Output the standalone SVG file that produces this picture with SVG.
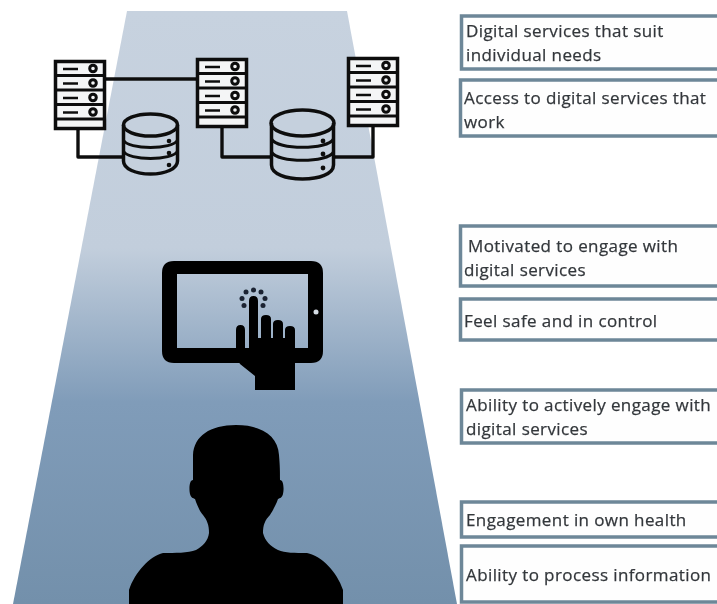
<svg xmlns="http://www.w3.org/2000/svg" width="717" height="604" viewBox="0 0 717 604">
<style>
.box{fill:#fefefe;stroke:#6d8798;stroke-width:3.500}
.lbl{font-family:"Open Sans","Liberation Sans",sans-serif;font-size:17px;letter-spacing:0.4px;fill:#33373b;stroke:#33373b;stroke-width:0.25px;filter:url(#soft)}
.ln{fill:none;stroke:#101010;stroke-width:3.400;stroke-linejoin:round}
.hw{fill:none;stroke:#101010;stroke-width:3}
.ic{filter:url(#soft)}
</style>
<defs>
<linearGradient id="bg" x1="0" y1="0" x2="0" y2="1">
<stop offset="0" stop-color="#c7d2df"/><stop offset="0.40" stop-color="#c2cedc"/><stop offset="0.66" stop-color="#809cb9"/><stop offset="1" stop-color="#7390ab"/>
</linearGradient>
<filter id="soft" x="-5%" y="-20%" width="110%" height="140%"><feGaussianBlur stdDeviation="0.45"/></filter>
<g id="srv">
<rect x="1.500" y="1.500" width="49" height="67" fill="#f4f5f6" stroke="#101010" stroke-width="3.500"/>
<path d="M1 15.500H51M1 30H51M1 44.500H51M1 59H51" class="hw"/>
<g class="hw"><path d="M9 9H24M9 23.500H24M9 38H24M9 52.500H24" stroke-width="2.600"/><circle cx="39" cy="8.500" r="3.300"/><circle cx="39" cy="23" r="3.300"/><circle cx="39" cy="37.500" r="3.300"/><circle cx="39" cy="52" r="3.300"/></g>
</g>
</defs>
<rect width="717" height="604" fill="#fff"/>
<polygon id="beam" points="127,11 347,11 457,604 13,604" fill="url(#bg)"/>

<g id="connectors" class="ic">
<path class="ln" d="M106 79H196"/>
<path class="ln" d="M78 130V157H122"/>
<path class="ln" d="M222 127V157H270"/>
<path class="ln" d="M373 127V157H335"/>
</g>

<g id="server-1" class="ic"><use href="#srv" x="54" y="60"/></g>
<g id="server-2" class="ic"><use href="#srv" x="196" y="58"/></g>
<g id="server-3" class="ic"><use href="#srv" x="347" y="57"/></g>

<g id="database-1" class="ic" fill="none" stroke="#101010" stroke-width="3.500">
<path d="M123.500 127V161C123.500 169 136 174 150.500 174S177.500 169 177.500 161V127Z" fill="#c5d0dd" stroke="none"/>
<ellipse cx="150.500" cy="125" rx="27" ry="11" fill="#c5d0dd"/>
<path d="M123.500 125V161C123.500 169 136 174 150.500 174S177.500 169 177.500 161V125"/>
<path d="M123.500 140C128 150 173 150 177.500 140M123.500 151C128 161 173 161 177.500 151" stroke-width="3"/>
<g fill="#101010" stroke="none"><circle cx="169" cy="141" r="2.300"/><circle cx="169" cy="153" r="2.300"/><circle cx="169" cy="165" r="2.300"/></g>
</g>
<g id="database-2" class="ic" fill="none" stroke="#101010" stroke-width="3.500">
<path d="M271.500 123V165C271.500 174 286 179 302.500 179S333.500 174 333.500 165V123Z" fill="#c5d0dd" stroke="none"/>
<ellipse cx="302.500" cy="123" rx="31.500" ry="13" fill="#c5d0dd"/>
<path d="M271.500 123V165C271.500 174 286 179 302.500 179S333.500 174 333.500 165V123"/>
<path d="M271.500 139C277 150 328 150 333.500 139M271.500 152C277 163 328 163 333.500 152" stroke-width="3"/>
<g fill="#101010" stroke="none"><circle cx="323" cy="141" r="2.400"/><circle cx="323" cy="154" r="2.400"/><circle cx="323" cy="168" r="2.400"/></g>
</g>

<g id="tablet" class="ic">
<path fill="#050505" fill-rule="evenodd" d="M174 261H311Q323 261 323 273V351Q323 363 311 363H174Q162 363 162 351V273Q162 261 174 261ZM177 274V348H308V274Z"/>
<circle cx="316" cy="312" r="2.500" fill="#d5dce4"/>
<path fill="#050505" d="M249 301Q249 296 253.500 296T258 301V338H261V319Q261 315 266 315T271 319V338H273V324Q273 320 278 320T283 324V338H285V330Q285 326 290 326T295 330V390H255V376L240 364L236 357V330Q236 325 240.500 325T245 330V348H249Z"/>
<g fill="#1a2430"><circle cx="253.500" cy="290" r="2.500"/><circle cx="261" cy="292" r="2.500"/><circle cx="265" cy="298.500" r="2.500"/><circle cx="263" cy="305.500" r="2.500"/><circle cx="246" cy="292" r="2.500"/><circle cx="242" cy="298.500" r="2.500"/><circle cx="244" cy="305.500" r="2.500"/></g>
</g>

<g id="person" class="ic">
<path fill="#020202" d="M236 425C262 425 278 436 279 455C280 467 280 472 280 480C284 480 284 490 283 494C282 498 280 498 278 499C276 505 272 512 270 515C265 520 263 525 263 533C265 541 270 546 278 550C285 553 295 553 307 553C322 556 337 572 343 590V604H129V590C135 572 150 556 163 553C175 553 188 553 196 550C203 546 208 541 209 533C209 525 207 520 203 515C200 512 197 505 195 499C193 498 191 498 190 494C189 490 189 480 193 480C193 472 193 467 193 455C194 436 210 425 236 425Z"/>
</g>

<g id="box-1"><rect class="box" x="461.500" y="16" width="270" height="53"/><text class="lbl" x="466" y="37">Digital services that suit</text><text class="lbl" x="466" y="61">individual needs</text></g>
<g id="box-2"><rect class="box" x="460.500" y="80" width="270" height="56"/><text class="lbl" x="464" y="104">Access to digital services that</text><text class="lbl" x="464" y="128">work</text></g>
<g id="box-3"><rect class="box" x="460.500" y="226" width="270" height="60"/><text class="lbl" x="468" y="252">Motivated to engage with</text><text class="lbl" x="464" y="276">digital services</text></g>
<g id="box-4"><rect class="box" x="460.500" y="299" width="270" height="41"/><text class="lbl" x="464" y="327">Feel safe and in control</text></g>
<g id="box-5"><rect class="box" x="461.500" y="390" width="270" height="53"/><text class="lbl" x="466" y="411">Ability to actively engage with</text><text class="lbl" x="466" y="435">digital services</text></g>
<g id="box-6"><rect class="box" x="461.500" y="502" width="270" height="35"/><text class="lbl" x="466" y="526">Engagement in own health</text></g>
<g id="box-7"><rect class="box" x="461.500" y="546" width="270" height="56"/><text class="lbl" x="466" y="581">Ability to process information</text></g>
</svg>
